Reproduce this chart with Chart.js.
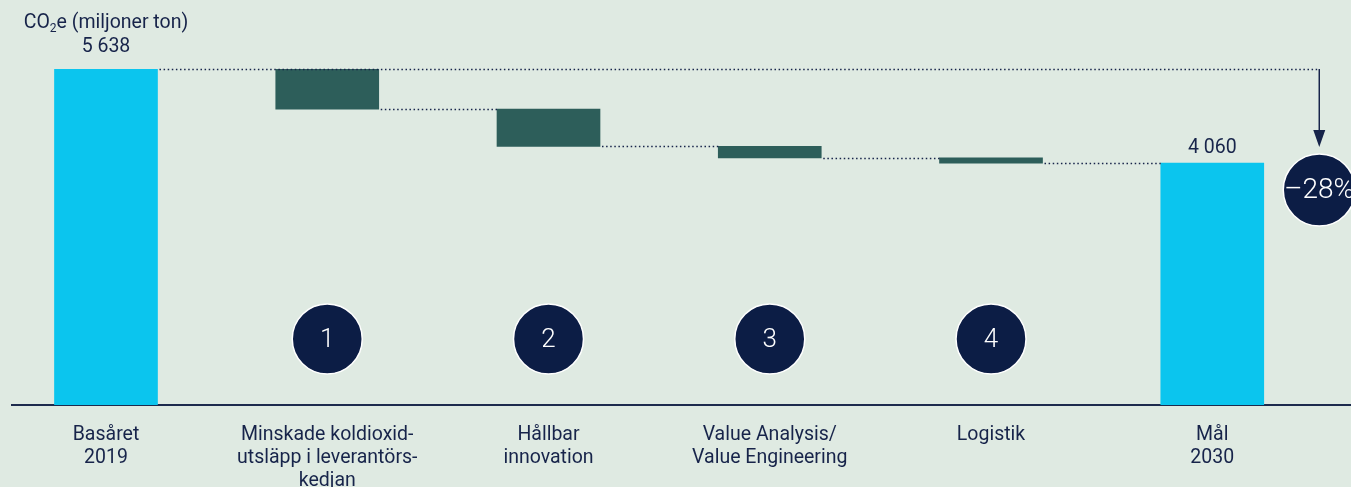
<!DOCTYPE html>
<html>
<head>
<meta charset="utf-8">
<script src="https://cdn.jsdelivr.net/npm/chart.js@4.4.1/dist/chart.umd.min.js"></script>
<style>
  html, body { margin: 0; padding: 0; background: #dfeae2; }
  #wrap { width: 1351px; height: 487px; }
  canvas { display: block; }
</style>
</head>
<body>
<div id="wrap"><canvas id="c" width="1351" height="487"></canvas></div>
<script>
// Category labels (one entry per bar, split into lines)
const categories = [
  ['Basåret', '2019'],
  ['Minskade koldioxid-', 'utsläpp i leverantörs-', 'kedjan'],
  ['Hållbar', 'innovation'],
  ['Value Analysis/', 'Value Engineering'],
  ['Logistik'],
  ['Mål', '2030']
];
// CO2e, millions of tonnes
const baseValue = 5638;
const reductions = [670, 625, 195, 88];
const targetValue = 4060;
const stepNumbers = ['1', '2', '3', '4'];

const NAVY = '#17244a';
const CIRCLE = '#0c1d45';
const CYAN = '#0bc5ee';
const GREEN = '#2d5e5a';
const BG = '#dfeae2';
const FONT = 'Roboto, "Open Sans", sans-serif';

// Build floating ranges for the waterfall
const ranges = [[0, baseValue]];
let level = baseValue;
reductions.forEach(r => { ranges.push([level - r, level]); level -= r; });
ranges.push([0, targetValue]);
const barColors = ranges.map((_, i) => (i === 0 || i === ranges.length - 1) ? CYAN : GREEN);
const points = ranges.map((r, i) => ({ x: i, y: r }));

const fmt = n => String(n).replace(/\B(?=(\d{3})+(?!\d))/g, ' ');
const pctText = '\u2013' + Math.abs(Math.round((targetValue - baseValue) / baseValue * 100)) + '%';

const decor = {
  id: 'decor',
  beforeDraw(chart) {
    const ctx = chart.ctx;
    ctx.save();
    ctx.fillStyle = BG;
    ctx.fillRect(0, 0, chart.width, chart.height);
    ctx.restore();
  },
  afterDatasetsDraw(chart) {
    const { ctx, scales: { x }, chartArea } = chart;
    const bars = chart.getDatasetMeta(0).data;
    const half = i => bars[i].width / 2;
    const arrowX = x.getPixelForValue(ranges.length - 1) + 107;
    const circleY = 190, circleR = 36;

    ctx.save();
    // dotted connectors between bars
    ctx.strokeStyle = NAVY;
    ctx.lineWidth = 1.5;
    ctx.setLineDash([1.5, 2.6]);
    for (let i = 0; i < bars.length - 1; i++) {
      const yy = i === 0 ? bars[0].y : Math.max(bars[i].y, bars[i].base);
      const x0 = bars[i].x + half(i) + 2;
      const x1 = i === 0 ? arrowX : bars[i + 1].x - half(i + 1);
      ctx.beginPath();
      ctx.moveTo(x0, Math.round(yy) + 0.5);
      ctx.lineTo(x1, Math.round(yy) + 0.5);
      ctx.stroke();
    }
    ctx.setLineDash([]);

    // arrow down to the change badge
    const tipY = circleY - circleR - 7;
    ctx.beginPath();
    ctx.moveTo(arrowX, Math.round(bars[0].y));
    ctx.lineTo(arrowX, tipY - 10);
    ctx.stroke();
    ctx.fillStyle = NAVY;
    ctx.beginPath();
    ctx.moveTo(arrowX - 6, tipY - 17);
    ctx.lineTo(arrowX + 6, tipY - 17);
    ctx.lineTo(arrowX, tipY);
    ctx.closePath();
    ctx.fill();

    // change badge
    ctx.beginPath();
    ctx.arc(arrowX, circleY, circleR, 0, Math.PI * 2);
    ctx.fillStyle = CIRCLE;
    ctx.fill();
    ctx.lineWidth = 1.5;
    ctx.strokeStyle = '#ffffff';
    ctx.stroke();
    ctx.fillStyle = '#ffffff';
    ctx.font = '300 28px ' + FONT;
    ctx.textAlign = 'center';
    ctx.textBaseline = 'middle';
    ctx.fillText(pctText, arrowX, circleY + 1);

    // numbered step markers
    stepNumbers.forEach((t, k) => {
      const bx = bars[k + 1].x;
      const cy = chartArea.bottom - 66;
      ctx.beginPath();
      ctx.arc(bx, cy, 35, 0, Math.PI * 2);
      ctx.fillStyle = CIRCLE;
      ctx.fill();
      ctx.strokeStyle = '#ffffff';
      ctx.lineWidth = 1.5;
      ctx.stroke();
      ctx.fillStyle = '#ffffff';
      ctx.font = '300 26px ' + FONT;
      ctx.fillText(t, bx, cy + 1);
    });

    // value labels
    ctx.fillStyle = NAVY;
    ctx.font = '19.5px ' + FONT;
    ctx.textBaseline = 'middle';
    const first = bars[0], last = bars[bars.length - 1];
    ctx.fillText(fmt(baseValue), first.x, first.y - 22);
    ctx.fillText(fmt(targetValue), last.x, last.y - 15);

    // unit label with subscript
    const uy = first.y - 46;
    const p1 = 'CO', p2 = '2', p3 = 'e (miljoner ton)';
    ctx.font = '19.5px ' + FONT;
    const w1 = ctx.measureText(p1).width, w3 = ctx.measureText(p3).width;
    ctx.font = '12px ' + FONT;
    const w2 = ctx.measureText(p2).width;
    const total = w1 + w2 + w3;
    const sx = first.x - total / 2;
    ctx.textAlign = 'left';
    ctx.font = '19.5px ' + FONT;
    ctx.fillText(p1, sx, uy);
    ctx.font = '12px ' + FONT;
    ctx.fillText(p2, sx + w1, uy + 6);
    ctx.font = '19.5px ' + FONT;
    ctx.fillText(p3, sx + w1 + w2, uy);
    ctx.restore();
  }
};

new Chart(document.getElementById('c'), {
  type: 'bar',
  data: {
    datasets: [{
      data: points,
      backgroundColor: barColors,
      borderWidth: 0,
      barThickness: 103
    }]
  },
  options: {
    responsive: false,
    devicePixelRatio: 1,
    animation: false,
    layout: { padding: { left: 12, right: 0, top: 0, bottom: 0 } },
    plugins: { legend: { display: false }, tooltip: { enabled: false } },
    scales: {
      x: {
        type: 'linear',
        offset: false,
        min: -0.4248,
        max: 5.627,
        grid: { display: false, offset: false },
        border: { display: true, color: '#1d2b4d', width: 2 },
        afterBuildTicks: s => { s.ticks = categories.map((_, i) => ({ value: i })); },
        afterFit: s => { s.height = 82; },
        ticks: {
          autoSkip: false,
          maxRotation: 0,
          padding: 10,
          color: NAVY,
          font: { family: FONT, size: 19.5, lineHeight: 1.2 },
          callback: v => categories[v]
        }
      },
      y: {
        display: false,
        min: 0,
        max: 6800
      }
    }
  },
  plugins: [decor]
});
</script>
</body>
</html>
